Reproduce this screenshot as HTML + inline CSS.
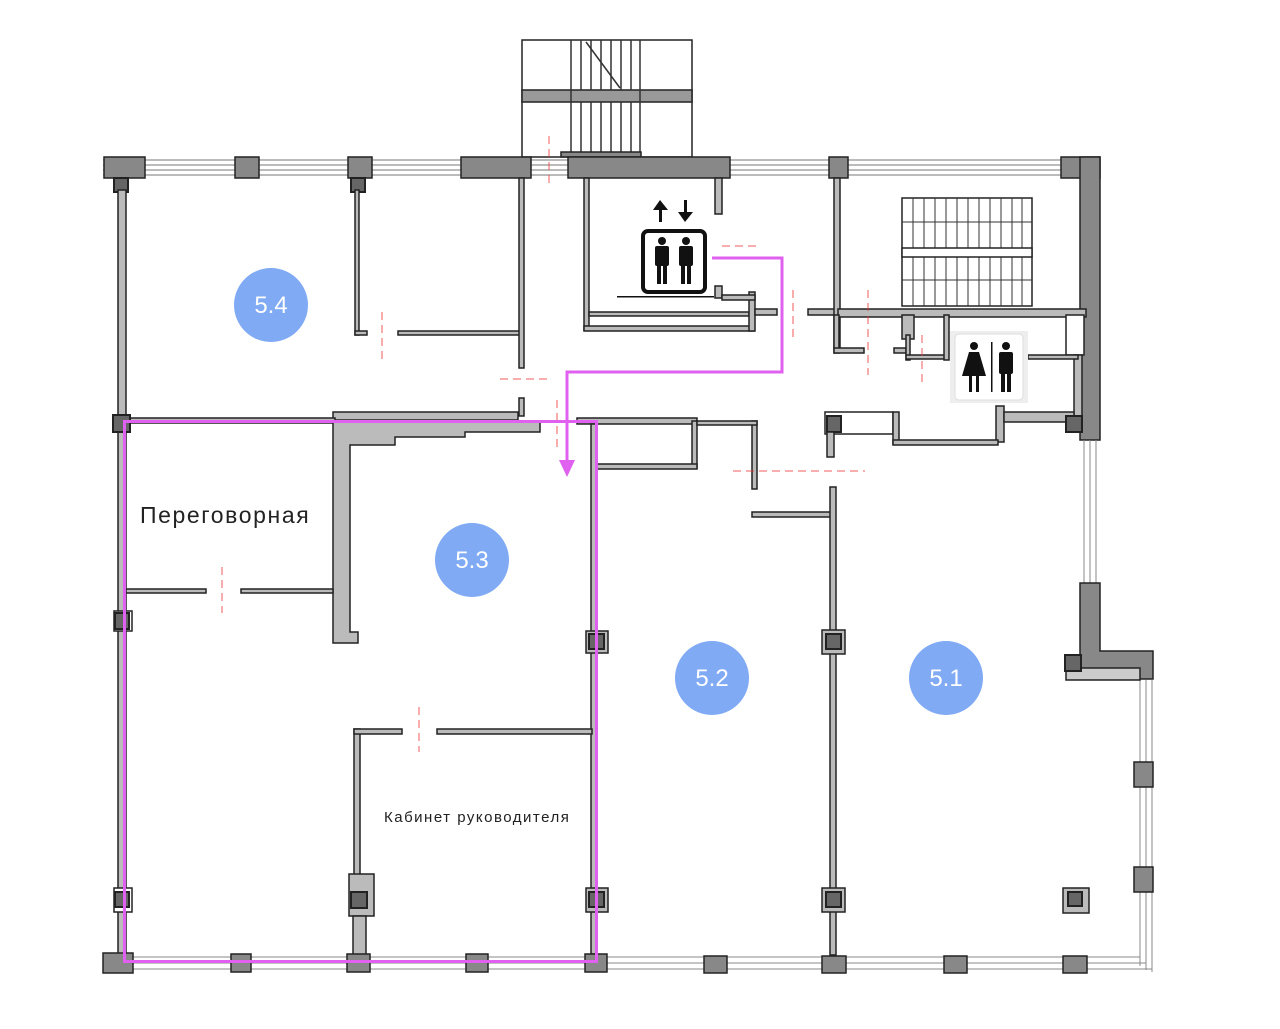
<!DOCTYPE html>
<html><head><meta charset="utf-8"><style>
html,body{margin:0;padding:0;background:#fff;}
svg{display:block;}
text{font-family:"Liberation Sans","DejaVu Sans",sans-serif;}
</style></head><body>
<svg width="1280" height="1029" viewBox="0 0 1280 1029" xmlns="http://www.w3.org/2000/svg">
<g stroke="#222" stroke-width="1.5">
<rect x="522" y="40" width="170" height="117" fill="#fff"/>
<rect x="522" y="90" width="170" height="12" fill="#999"/>
<g stroke="#333">
<line x1="571" y1="40" x2="571" y2="157"/><line x1="581" y1="40" x2="581" y2="90"/><line x1="591" y1="40" x2="591" y2="90"/><line x1="601" y1="40" x2="601" y2="90"/><line x1="611" y1="40" x2="611" y2="90"/><line x1="621" y1="40" x2="621" y2="90"/><line x1="631" y1="40" x2="631" y2="90"/><line x1="640" y1="40" x2="640" y2="157"/>
<line x1="581" y1="102" x2="581" y2="152"/><line x1="591" y1="102" x2="591" y2="152"/><line x1="601" y1="102" x2="601" y2="152"/><line x1="611" y1="102" x2="611" y2="152"/><line x1="621" y1="102" x2="621" y2="152"/><line x1="631" y1="102" x2="631" y2="152"/>
<line x1="586" y1="42" x2="620" y2="88"/>
</g>
<rect x="561" y="152" width="80" height="5" fill="#888"/>
<g fill="none" stroke="#777" stroke-width="1">
<line x1="103" y1="160" x2="1090" y2="160"/><line x1="103" y1="165" x2="1090" y2="165"/><line x1="103" y1="170" x2="1090" y2="170"/><line x1="103" y1="175" x2="1090" y2="175"/>
</g>
<rect x="104" y="157" width="41" height="21" fill="#888"/>
<rect x="235" y="157" width="24" height="21" fill="#888"/>
<rect x="348" y="157" width="24" height="21" fill="#888"/>
<rect x="461" y="157" width="70" height="21" fill="#888"/>
<rect x="568" y="157" width="162" height="21" fill="#888"/>
<rect x="829" y="157" width="19" height="21" fill="#888"/>
<rect x="1061" y="157" width="39" height="21" fill="#888"/>
<rect x="1080" y="157" width="20" height="283" fill="#888"/>
<rect x="114" y="178" width="14" height="14" fill="#666" stroke-width="2"/>
<rect x="351" y="178" width="14" height="14" fill="#666" stroke-width="2"/>
<rect x="118" y="190" width="8" height="770" fill="#bbb"/>
<rect x="355" y="190" width="4" height="145" fill="#bbb"/>
<rect x="355" y="331" width="12" height="4" fill="#bbb"/>
<rect x="398" y="331" width="122" height="4" fill="#bbb"/>
<rect x="519" y="178" width="5" height="190" fill="#bbb"/>
<rect x="519" y="398" width="5" height="18" fill="#bbb"/>
<rect x="333" y="412" width="185" height="8" fill="#bbb"/>
<rect x="125" y="418" width="210" height="5" fill="#bbb"/>
<rect x="113" y="415" width="17" height="17" fill="#666" stroke-width="2"/>
<path d="M333 420 L333 643 L358 643 L358 632 L350 632 L350 445 L395 445 L395 437 L465 437 L465 432 L540 432 L540 421 L333 421 Z" fill="#bbb"/>
<rect x="577" y="418" width="120" height="6" fill="#bbb"/>
<rect x="126" y="589" width="80" height="4" fill="#bbb"/>
<rect x="241" y="589" width="92" height="4" fill="#bbb"/>
<rect x="114" y="611" width="18" height="20" fill="#fff"/><rect x="115" y="613" width="14" height="16" fill="#666" stroke-width="2"/>
<rect x="591" y="424" width="5" height="530" fill="#bbb"/>
<rect x="586" y="631" width="22" height="22" fill="#bbb"/><rect x="589" y="634" width="15" height="15" fill="#666" stroke-width="2"/>
<rect x="586" y="888" width="22" height="24" fill="#bbb"/><rect x="589" y="892" width="15" height="15" fill="#666" stroke-width="2"/>
<rect x="114" y="888" width="18" height="24" fill="#fff"/><rect x="115" y="892" width="14" height="15" fill="#666" stroke-width="2"/>
<rect x="354" y="729" width="6" height="146" fill="#bbb"/>
<rect x="354" y="729" width="48" height="5" fill="#bbb"/>
<rect x="437" y="729" width="155" height="5" fill="#bbb"/>
<rect x="349" y="874" width="25" height="42" fill="#bbb"/>
<rect x="351" y="892" width="16" height="16" fill="#666" stroke-width="2"/>
<rect x="353" y="916" width="13" height="40" fill="#bbb"/>
<rect x="584" y="178" width="5" height="152" fill="#bbb"/>
<rect x="584" y="326" width="170" height="5" fill="#bbb"/>
<rect x="589" y="312" width="160" height="4" fill="#bbb"/>
<rect x="749" y="292" width="6" height="39" fill="#bbb"/>
<rect x="715" y="178" width="7" height="36" fill="#bbb"/>
<rect x="715" y="286" width="7" height="12" fill="#bbb"/>
<rect x="722" y="295" width="33" height="5" fill="#bbb"/>
<rect x="755" y="309" width="22" height="6" fill="#bbb"/>
<rect x="808" y="309" width="30" height="6" fill="#bbb"/>
<rect x="834" y="178" width="6" height="170" fill="#bbb"/>
<rect x="838" y="309" width="248" height="8" fill="#bbb"/>
<rect x="902" y="198" width="130" height="108" fill="#fff"/>
<g stroke="#333" stroke-width="1">
<line x1="913" y1="198" x2="913" y2="306"/><line x1="924" y1="198" x2="924" y2="306"/><line x1="935" y1="198" x2="935" y2="306"/><line x1="946" y1="198" x2="946" y2="306"/><line x1="957" y1="198" x2="957" y2="306"/><line x1="968" y1="198" x2="968" y2="306"/><line x1="979" y1="198" x2="979" y2="306"/><line x1="990" y1="198" x2="990" y2="306"/><line x1="1001" y1="198" x2="1001" y2="306"/><line x1="1012" y1="198" x2="1012" y2="306"/><line x1="1022" y1="198" x2="1022" y2="306"/>
<line x1="902" y1="222" x2="1032" y2="222"/><line x1="902" y1="280" x2="1032" y2="280"/>
</g>
<rect x="902" y="248" width="130" height="9" fill="#fff"/>
<rect x="834" y="315" width="5" height="38" fill="#bbb"/>
<rect x="834" y="348" width="30" height="5" fill="#bbb"/>
<rect x="894" y="348" width="12" height="5" fill="#bbb"/>
<rect x="902" y="315" width="12" height="24" fill="#bbb"/>
<rect x="906" y="335" width="4" height="25" fill="#bbb"/>
<rect x="906" y="355" width="40" height="4" fill="#bbb"/>
<rect x="944" y="315" width="5" height="45" fill="#bbb"/>
<rect x="1066" y="315" width="18" height="40" fill="#fff"/>
<rect x="1074" y="355" width="8" height="65" fill="#bbb"/>
<rect x="1028" y="355" width="50" height="4" fill="#bbb"/>
<rect x="996" y="406" width="8" height="36" fill="#bbb"/>
<rect x="1004" y="412" width="70" height="10" fill="#bbb"/>
<rect x="1066" y="416" width="16" height="16" fill="#666" stroke-width="2"/>
<rect x="825" y="412" width="68" height="22" fill="#fff"/>
<rect x="827" y="416" width="14" height="16" fill="#666" stroke-width="2"/>
<rect x="893" y="412" width="6" height="32" fill="#bbb"/>
<rect x="893" y="440" width="105" height="5" fill="#bbb"/>
<rect x="692" y="421" width="5" height="47" fill="#bbb"/>
<rect x="597" y="464" width="100" height="5" fill="#bbb"/>
<rect x="752" y="421" width="5" height="68" fill="#bbb"/>
<rect x="697" y="421" width="60" height="4" fill="#bbb"/>
<rect x="752" y="512" width="82" height="5" fill="#bbb"/>
<rect x="827" y="432" width="7" height="25" fill="#bbb"/>
<rect x="830" y="487" width="6" height="468" fill="#bbb"/>
<rect x="822" y="630" width="23" height="24" fill="#bbb"/><rect x="826" y="634" width="15" height="15" fill="#666" stroke-width="2"/>
<rect x="822" y="888" width="23" height="24" fill="#bbb"/><rect x="826" y="892" width="15" height="15" fill="#666" stroke-width="2"/>
<g fill="none" stroke="#888" stroke-width="1">
<line x1="1084" y1="440" x2="1084" y2="583"/><line x1="1090" y1="440" x2="1090" y2="583"/><line x1="1096" y1="440" x2="1096" y2="583"/>
<line x1="1140" y1="680" x2="1140" y2="966"/><line x1="1146" y1="680" x2="1146" y2="970"/><line x1="1152" y1="680" x2="1152" y2="972"/>
<line x1="103" y1="957" x2="1140" y2="957"/><line x1="103" y1="963" x2="1146" y2="963"/><line x1="103" y1="969" x2="1152" y2="969"/>
</g>
<path d="M1080 583 L1100 583 L1100 651 L1153 651 L1153 679 L1080 679 Z" fill="#888"/>
<rect x="1066" y="668" width="74" height="12" fill="#ccc"/>
<rect x="1065" y="655" width="16" height="16" fill="#666" stroke-width="2"/>
<rect x="1134" y="762" width="19" height="25" fill="#888"/>
<rect x="1134" y="867" width="19" height="25" fill="#888"/>
<rect x="1063" y="888" width="26" height="25" fill="#bbb"/><rect x="1068" y="892" width="14" height="14" fill="#666" stroke-width="2"/>
<rect x="103" y="953" width="30" height="20" fill="#888"/>
<rect x="231" y="954" width="20" height="18" fill="#888"/>
<rect x="347" y="954" width="23" height="18" fill="#888"/>
<rect x="466" y="954" width="22" height="18" fill="#888"/>
<rect x="585" y="954" width="22" height="18" fill="#888"/>
<rect x="704" y="956" width="23" height="17" fill="#888"/>
<rect x="822" y="956" width="24" height="17" fill="#888"/>
<rect x="944" y="956" width="23" height="17" fill="#888"/>
<rect x="1063" y="956" width="24" height="17" fill="#888"/>
</g>
<g stroke="#e33" stroke-width="1" stroke-dasharray="8,5" fill="none" opacity="0.8">
<line x1="549" y1="136" x2="549" y2="185"/>
<line x1="382" y1="312" x2="382" y2="360"/>
<line x1="500" y1="379" x2="548" y2="379"/>
<line x1="557" y1="400" x2="557" y2="450"/>
<line x1="222" y1="567" x2="222" y2="613"/>
<line x1="419" y1="707" x2="419" y2="752"/>
<line x1="722" y1="246" x2="756" y2="246"/>
<line x1="793" y1="290" x2="793" y2="340"/>
<line x1="868" y1="290" x2="868" y2="375"/>
<line x1="922" y1="335" x2="922" y2="385"/>
<line x1="733" y1="471" x2="865" y2="471"/>
</g>
<rect x="124.5" y="421.5" width="472" height="540" fill="none" stroke="#e060f0" stroke-width="3"/>
<polyline points="712,258 782,258 782,372 567,372 567,462" fill="none" stroke="#e060f0" stroke-width="3"/>
<polygon points="559,460 575,460 567,477" fill="#e060f0"/>
<g fill="#111">
<rect x="643" y="231" width="62" height="61" rx="5" fill="none" stroke="#111" stroke-width="4"/>
<circle cx="662" cy="241" r="4"/><rect x="655" y="246" width="14" height="20" rx="2"/><rect x="657" y="264" width="4" height="20"/><rect x="663" y="264" width="4" height="20"/>
<circle cx="686" cy="241" r="4"/><rect x="679" y="246" width="14" height="20" rx="2"/><rect x="681" y="264" width="4" height="20"/><rect x="687" y="264" width="4" height="20"/>
<rect x="659" y="208" width="3" height="14"/><polygon points="653,210 668,210 660,200"/>
<rect x="684" y="200" width="3" height="14"/><polygon points="678,212 693,212 685,222"/>
<rect x="617" y="296" width="97" height="1.5"/>
</g>
<rect x="950" y="331" width="78" height="72" fill="#eee"/>
<rect x="955" y="334" width="68" height="66" rx="4" fill="#fff" stroke="#ddd"/>
<g fill="#111">
<circle cx="974" cy="346" r="4"/><polygon points="969,352 979,352 986,376 962,376"/><rect x="969" y="374" width="3" height="18"/><rect x="976" y="374" width="3" height="18"/>
<rect x="991" y="342" width="1.5" height="50"/>
<circle cx="1006" cy="346" r="4"/><rect x="999" y="352" width="14" height="22" rx="2"/><rect x="1001" y="372" width="4" height="20"/><rect x="1007" y="372" width="4" height="20"/>
</g>
<g fill="#80aaf4">
<circle cx="271" cy="305" r="37"/>
<circle cx="472" cy="560" r="37"/>
<circle cx="712" cy="678" r="37"/>
<circle cx="946" cy="678" r="37"/>
</g>
<g fill="#fff" font-size="24" text-anchor="middle">
<text x="271" y="313">5.4</text>
<text x="472" y="568">5.3</text>
<text x="712" y="686">5.2</text>
<text x="946" y="686">5.1</text>
</g>
<text x="140" y="523" font-size="23" fill="#222" letter-spacing="1.6">Переговорная</text>
<text x="384" y="822" font-size="15" fill="#222" letter-spacing="1.5">Кабинет руководителя</text>
</svg>
</body></html>
